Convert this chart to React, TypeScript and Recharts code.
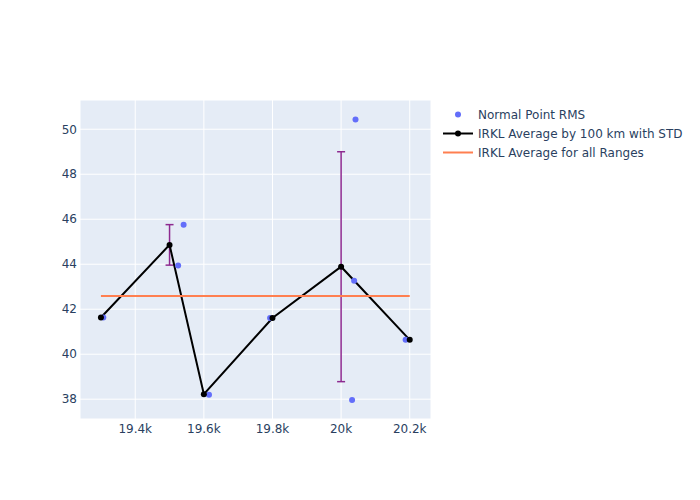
import React from 'react';
import {
  ComposedChart,
  Line,
  Scatter,
  XAxis,
  YAxis,
  CartesianGrid,
  ErrorBar,
} from 'recharts';

// Normal point RMS values
const rmsRange = [19307, 19525, 19541, 19615, 19793, 20032, 20038, 20042, 20188];
const rmsValue = [41.63, 43.94, 45.76, 38.2, 41.61, 37.97, 43.27, 50.43, 40.64];

// 100 km bin averages with std
const binRange = [19300, 19500, 19600, 19800, 20000, 20200];
const binAvg = [41.63, 44.86, 38.22, 41.61, 43.89, 40.64];
const binStd = [0, 0.9, 0, 0, 5.11, 0];

// overall average
const allRange = [19300, 20200];
const allAvg = 42.59;

const xTicks = [19400, 19600, 19800, 20000, 20200];
const yTicks = [38, 40, 42, 44, 46, 48, 50];

const rmsData = rmsRange.map((x, i) => ({ x, y: rmsValue[i] }));
const binData = binRange.map((x, i) => ({ x, y: binAvg[i], err: binStd[i] }));
const allData = allRange.map((x) => ({ x, y: allAvg }));

const font = 'DejaVu Sans, sans-serif';
const textColor = '#2a3f5f';

const fmtK = (v: number) => {
  const k = v / 1000;
  return `${Number.isInteger(k) ? k : k.toFixed(1)}k`;
};

const Dot = (props: any) => {
  const { cx, cy } = props;
  return <circle cx={cx} cy={cy} r={3} fill="#636efa" />;
};

const LegendBox = () => (
  <div
    style={{
      position: 'absolute',
      left: 443,
      top: 105,
      fontFamily: font,
      fontSize: 12,
      color: textColor,
    }}
  >
    <div style={{ display: 'flex', alignItems: 'center', height: 19 }}>
      <svg width={35} height={19}>
        <circle cx={15} cy={9.5} r={3} fill="#636efa" />
      </svg>
      <span>Normal Point RMS</span>
    </div>
    <div style={{ display: 'flex', alignItems: 'center', height: 19 }}>
      <svg width={35} height={19}>
        <line x1={0} y1={9.5} x2={30} y2={9.5} stroke="#000" strokeWidth={2} />
        <circle cx={15} cy={9.5} r={3} fill="#000" />
      </svg>
      <span>IRKL Average by 100 km with STD</span>
    </div>
    <div style={{ display: 'flex', alignItems: 'center', height: 19 }}>
      <svg width={35} height={19}>
        <line x1={0} y1={9.5} x2={30} y2={9.5} stroke="#ff7f50" strokeWidth={2} />
      </svg>
      <span>IRKL Average for all Ranges</span>
    </div>
  </div>
);

export default function App() {
  return (
    <div style={{ position: 'absolute', left: 0, top: 0, width: 700, height: 500, background: '#fff' }}>
      <ComposedChart
        width={700}
        height={500}
        margin={{ top: 100, right: 269, bottom: 51, left: 20 }}
      >
        <CartesianGrid fill="#e5ecf6" stroke="#fff" strokeWidth={1} />
        <XAxis
          type="number"
          dataKey="x"
          domain={[19239, 20262]}
          ticks={xTicks}
          tickFormatter={fmtK}
          allowDataOverflow
          axisLine={false}
          tickLine={false}
          tickSize={0}
          tickMargin={5}
          height={30}
          tick={{ fill: textColor, fontSize: 12, fontFamily: font }}
        />
        <YAxis
          type="number"
          dataKey="y"
          domain={[37.12, 51.3]}
          ticks={yTicks}
          allowDataOverflow
          axisLine={false}
          tickLine={false}
          tickSize={0}
          tickMargin={3}
          width={60}
          tick={{ fill: textColor, fontSize: 12, fontFamily: font }}
        />
        <Scatter
          name="Normal Point RMS"
          data={rmsData}
          shape={<Dot />}
          isAnimationActive={false}
        />
        <Line
          name="IRKL Average by 100 km with STD"
          data={binData}
          dataKey="y"
          stroke="#000"
          strokeWidth={2}
          dot={{ r: 3, fill: '#000', stroke: '#000', strokeWidth: 0 }}
          isAnimationActive={false}
        >
          <ErrorBar dataKey="err" direction="y" width={4} stroke="#8d2a90" strokeWidth={1.5} />
        </Line>
        <Line
          name="IRKL Average for all Ranges"
          data={allData}
          dataKey="y"
          stroke="#ff7f50"
          strokeWidth={2}
          dot={false}
          isAnimationActive={false}
        />
      </ComposedChart>
      <LegendBox />
    </div>
  );
}
